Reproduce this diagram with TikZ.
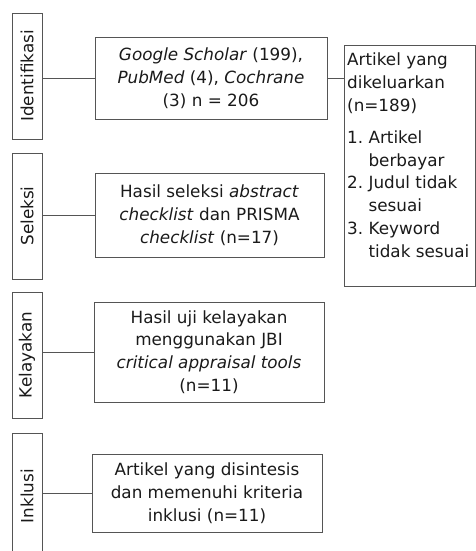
\documentclass[tikz,border=0pt]{standalone}
\usepackage{fontspec}
\setmainfont{DejaVu Sans}
\usepackage{tikz}
\usetikzlibrary{positioning}
\definecolor{linegray}{HTML}{555555}
\definecolor{textblack}{HTML}{1A1A1A}

\begin{document}
\begin{tikzpicture}[x=1pt,y=-1pt,
    every node/.style={font=\fontsize{16.8}{22.8}\selectfont, text=textblack, inner sep=0pt},
    phase/.style={draw=linegray, minimum width=30pt, minimum height=126pt},
    stepbox/.style={draw=linegray, align=center, minimum width=230pt},
    link/.style={draw=linegray, line width=0.8pt}]
    \useasboundingbox (0,0) rectangle (476,551);

    % phases on the left
    \node[phase] (p1) at (27,76) {\rotatebox{90}{Identifikasi}};
    \node[phase] (p2) at (27,216) {\rotatebox{90}{Seleksi}};
    \node[phase] (p3) at (27,355) {\rotatebox{90}{Kelayakan}};
    \node[phase] (p4) at (27,496) {\rotatebox{90}{Inklusi}};

    % steps
    \node[stepbox, minimum width=232pt, minimum height=82pt] (s1) at (211,78)
      {\textit{Google Scholar} (199),\\ \textit{PubMed} (4), \textit{Cochrane}\\ (3) n = 206};
    \node[stepbox, minimum width=229pt, minimum height=84pt] (s2) at (209.5,215)
      {Hasil seleksi \textit{abstract}\\ \textit{checklist} dan PRISMA\\ \textit{checklist} (n=17)};
    \node[stepbox, minimum height=100pt] (s3) at (209,352)
      {Hasil uji kelayakan\\ menggunakan JBI\\ \textit{critical appraisal tools}\\ (n=11)};
    \node[stepbox, minimum height=78pt] (s4) at (207,493)
      {Artikel yang disintesis\\ dan memenuhi kriteria\\ inklusi (n=11)};

    % excluded articles
    \node[draw=linegray, anchor=north west, inner xsep=3pt, inner ysep=5pt] (ex) at (344,45)
      {\parbox[t][231pt][t]{125pt}{\raggedright\vspace*{3pt}
        Artikel yang\\ dikeluarkan\\ (n=189)\\[9pt]
        1.\ Artikel\\ \hphantom{1.\ }berbayar\\
        2.\ Judul tidak\\ \hphantom{2.\ }sesuai\\
        3.\ Keyword\\ \hphantom{3.\ }tidak sesuai}};

    \foreach \i in {1,...,4}
      \draw[link] (s\i.west) -- (s\i.west -| p\i.east);
    \draw[link] (s1.east) -- (s1.east -| ex.west);
\end{tikzpicture}
\end{document}
